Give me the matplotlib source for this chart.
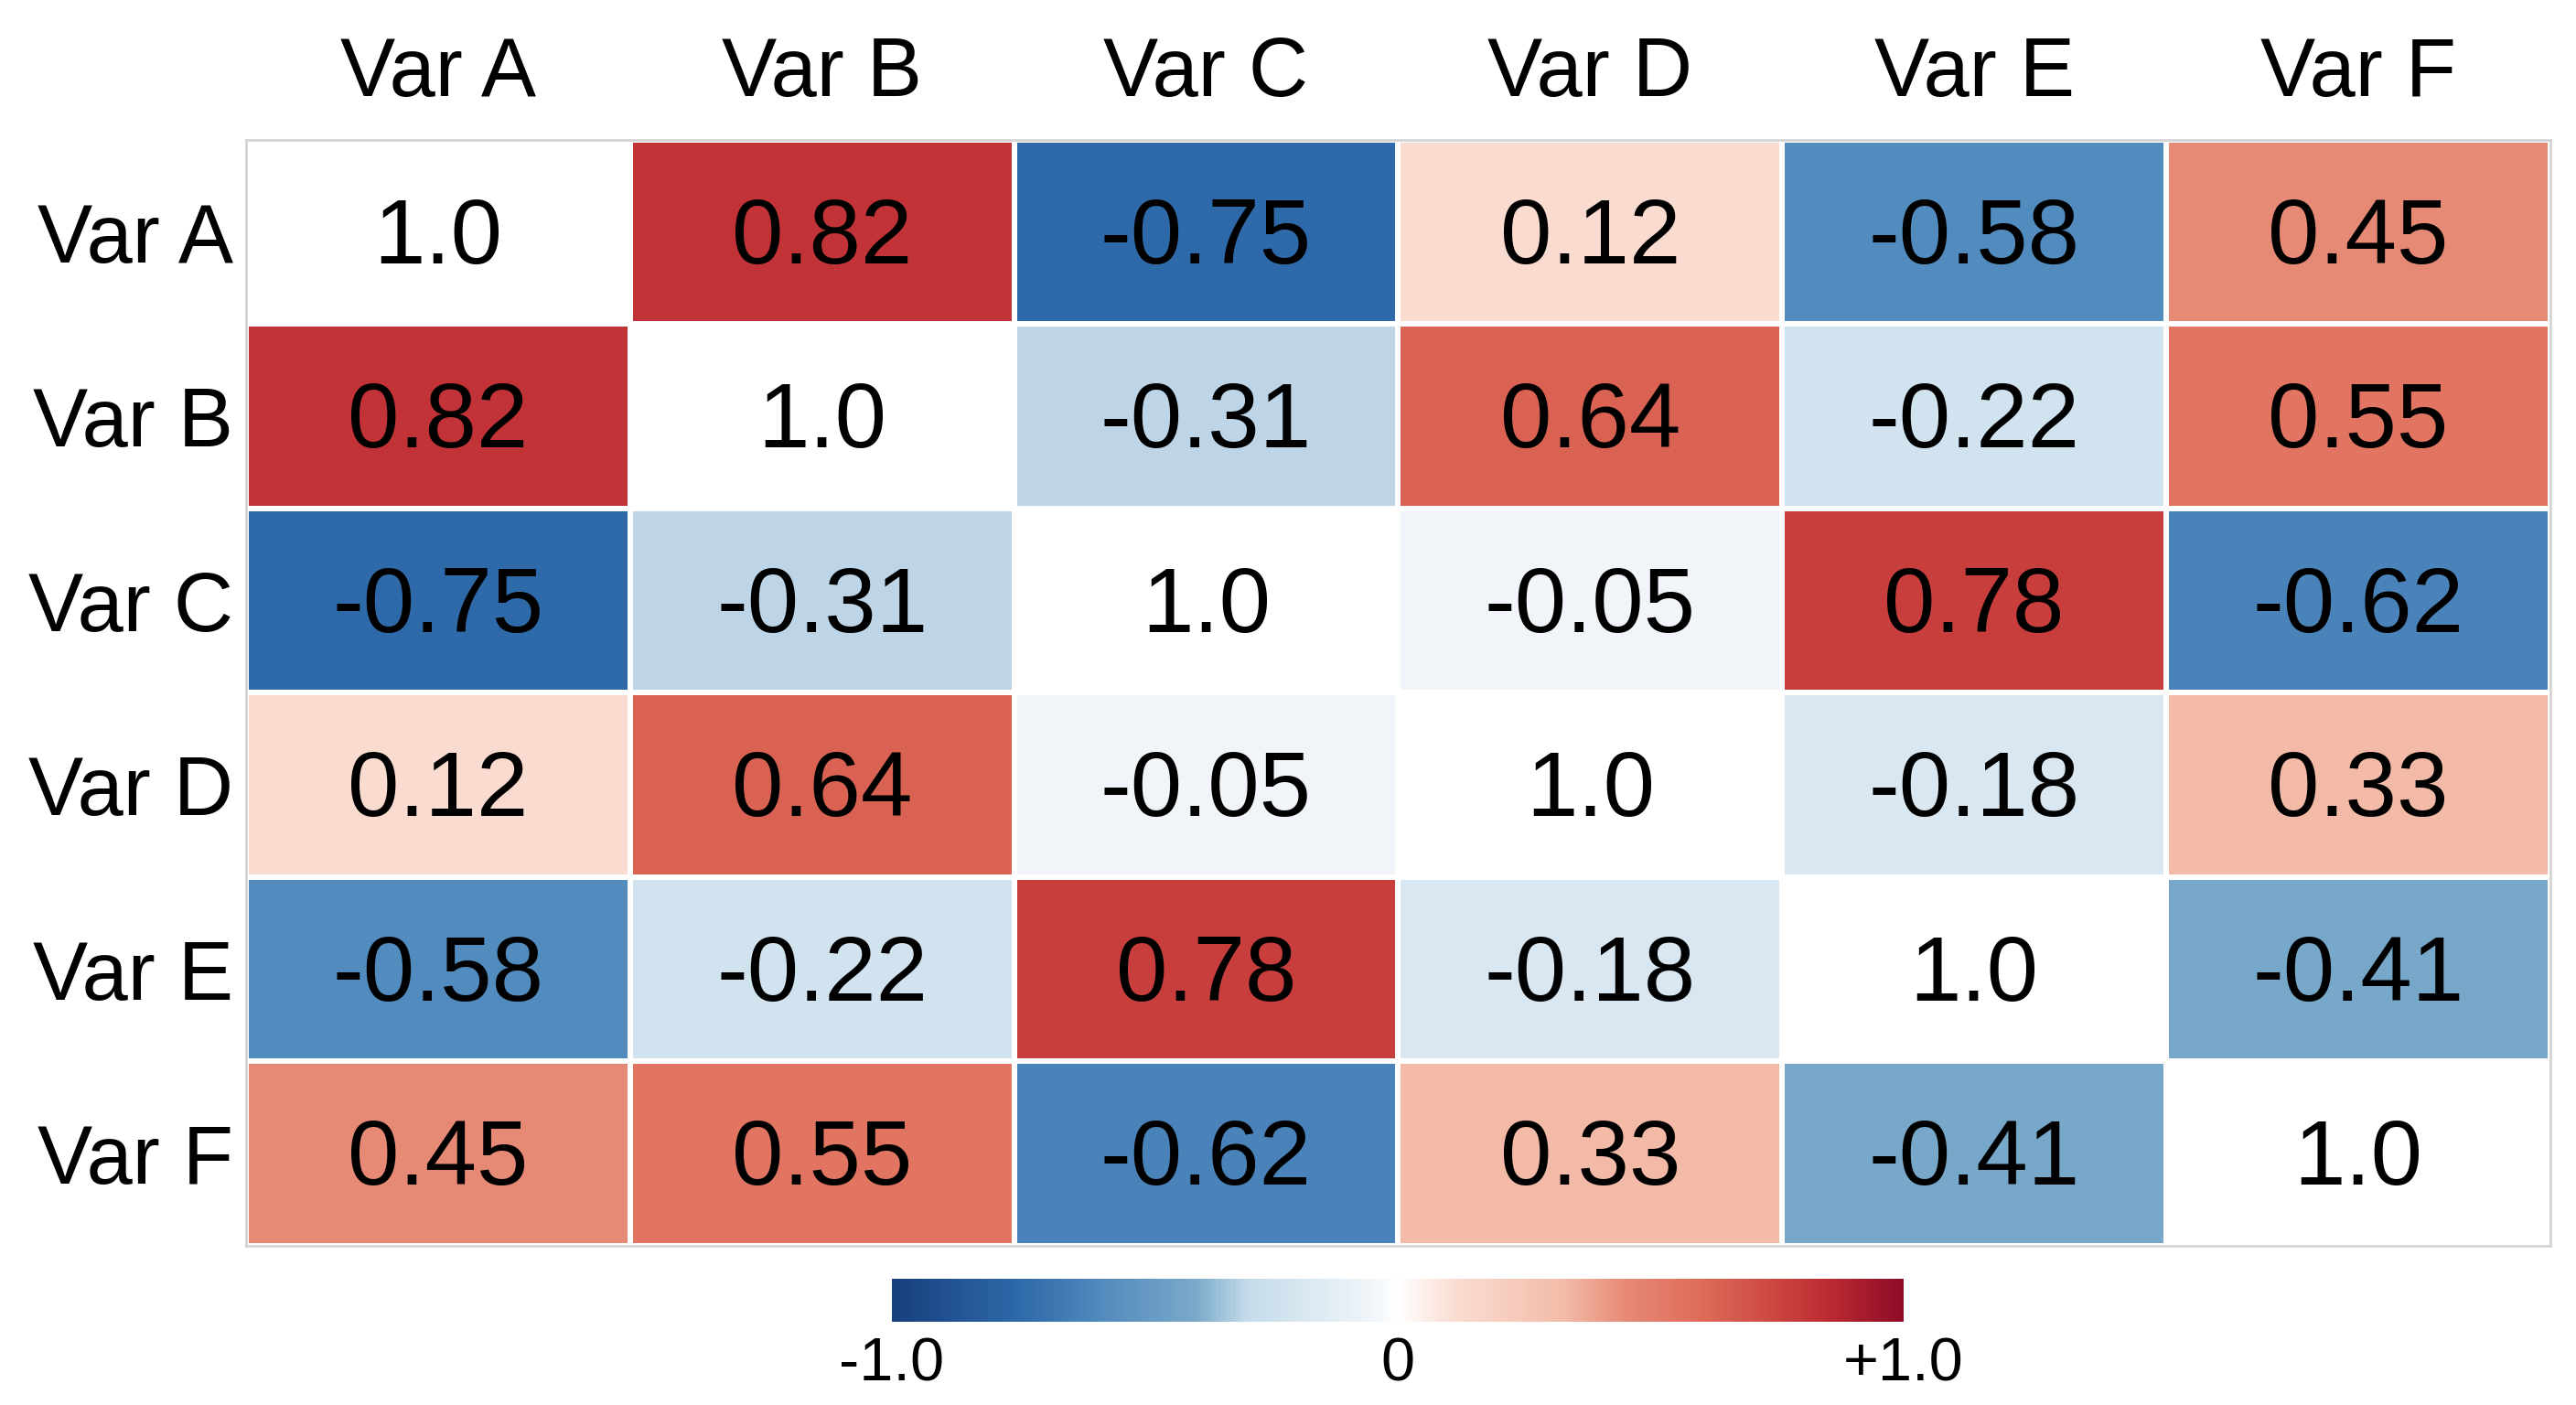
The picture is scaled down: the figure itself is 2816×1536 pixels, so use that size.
#!/usr/bin/env python3

import numpy as np
import matplotlib
matplotlib.use('Agg')
import matplotlib.pyplot as plt
from matplotlib.colors import LinearSegmentedColormap

plt.rcParams['font.family'] = ['Liberation Sans', 'DejaVu Sans']

# Datos de la matriz de correlacion
variables = ['Var A', 'Var B', 'Var C', 'Var D', 'Var E', 'Var F']
row_a = [1.0, 0.82, -0.75, 0.12, -0.58, 0.45]
row_b = [0.82, 1.0, -0.31, 0.64, -0.22, 0.55]
row_c = [-0.75, -0.31, 1.0, -0.05, 0.78, -0.62]
row_d = [0.12, 0.64, -0.05, 1.0, -0.18, 0.33]
row_e = [-0.58, -0.22, 0.78, -0.18, 1.0, -0.41]
row_f = [0.45, 0.55, -0.62, 0.33, -0.41, 1.0]
cbar_ticks = [-1.0, 0.0, 1.0]
cbar_labels = ['-1.0', '0', '+1.0']


def build_cmap():
    stops = [
        (-1.00, '#163f7e'),
        (-0.75, '#2e69a9'),
        (-0.60, '#4f88bc'),
        (-0.40, '#7aaacb'),
        (-0.30, '#c4dae9'),
        (-0.18, '#d9e8f1'),
        (-0.05, '#f1f5f9'),
        (0.00, '#ffffff'),
        (0.12, '#f9dbd0'),
        (0.33, '#f2bba8'),
        (0.45, '#e68a76'),
        (0.60, '#de6c59'),
        (0.78, '#c73e3c'),
        (0.85, '#bd2b32'),
        (1.00, '#8e0c26'),
    ]
    return LinearSegmentedColormap.from_list(
        'corr', [((v + 1) / 2, c) for v, c in stops])


def generate_plot():
    data = np.array([row_a, row_b, row_c, row_d, row_e, row_f])
    n = len(variables)

    cmap = build_cmap()
    cmap.set_bad('white')
    masked = np.ma.masked_where(np.eye(n, dtype=bool), data)

    fig = plt.figure(figsize=(28.16, 15.36), dpi=100)
    ax = fig.add_axes([0.0955, 0.1133, 0.8945, 0.7871])

    mesh = ax.pcolormesh(masked, cmap=cmap, vmin=-1, vmax=1,
                         edgecolors='white', linewidth=3)
    ax.set_xlim(0, n)
    ax.set_ylim(n, 0)

    for i in range(n):
        for j in range(n):
            v = data[i, j]
            txt = '1.0' if i == j else f"{v:.2f}"
            ax.text(j + 0.5, i + 0.54, txt, ha='center', va='center',
                    fontsize=73, color='black')

    ax.set_xticks(np.arange(n) + 0.5)
    ax.set_yticks(np.arange(n) + 0.5)
    ax.set_xticklabels(variables, fontsize=65)
    ax.set_yticklabels(variables, fontsize=65)
    ax.xaxis.tick_top()
    ax.tick_params(axis='x', length=0, pad=21)
    ax.tick_params(axis='y', length=0, pad=10)
    for s in ax.spines.values():
        s.set_color('#d4d4d4')
        s.set_linewidth(2)

    cax = fig.add_axes([0.3462, 0.0592, 0.3928, 0.0306])
    cb = fig.colorbar(mesh, cax=cax, orientation='horizontal')
    cb.set_ticks(cbar_ticks)
    cb.set_ticklabels(cbar_labels)
    cb.ax.tick_params(length=0, labelsize=48, pad=12)
    cb.outline.set_visible(False)

    fig.savefig('out.png', dpi=100, facecolor='white')
    plt.close(fig)


if __name__ == '__main__':
    generate_plot()
